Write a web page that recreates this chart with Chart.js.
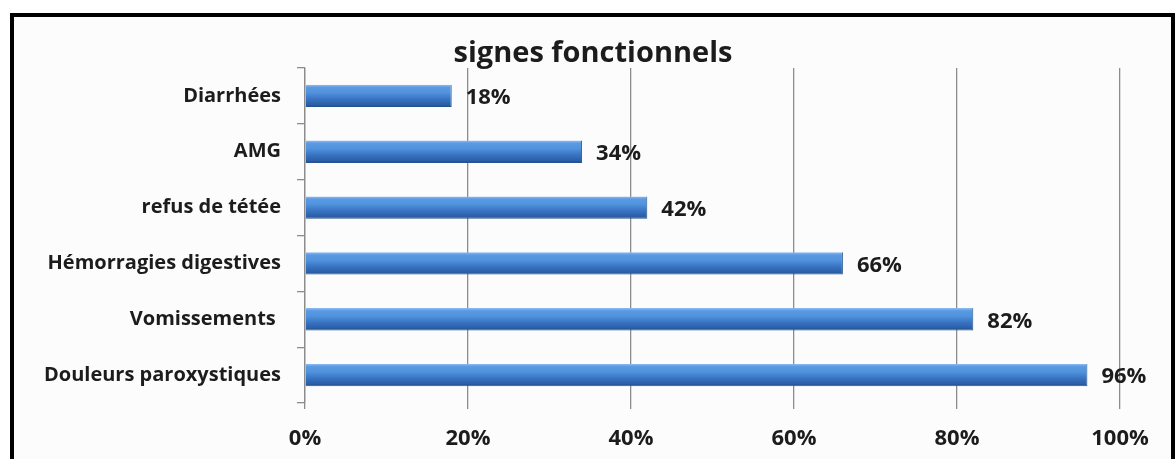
<!DOCTYPE html>
<html>
<head>
<meta charset="utf-8">
<script src="https://cdn.jsdelivr.net/npm/chart.js@4.4.0/dist/chart.umd.min.js"></script>
<style>
  html, body { margin: 0; padding: 0; background: #fff; }
  #wrap { position: relative; width: 1175px; height: 459px; }
  #frame {
    position: absolute; left: 10px; top: 13px; width: 1157px; height: 460px;
    border: 4px solid #000; background: #fcfcfc; box-sizing: content-box;
  }
  canvas { position: absolute; left: 0; top: 0; }
</style>
</head>
<body>
<div id="wrap">
  <div id="frame"></div>
  <canvas id="chart" width="1175" height="459"></canvas>
</div>
<script>
// signes fonctionnels — horizontal bars
const categories = ['Diarrhées', 'AMG', 'refus de tétée', 'Hémorragies digestives', 'Vomissements ', 'Douleurs paroxystiques'];
const values = [18, 34, 42, 66, 82, 96];
const tickValues = [0, 20, 40, 60, 80, 100];

const FONT = '"Open Sans", Lato, sans-serif';
const TEXT = '#1c1c1c';
const BAR_FRACTION = 0.4;

// vertical gradient per bar, computed from the category scale
function barFill(c) {
    const chart = c.chart;
    const y = chart.scales.y;
    if (!y || !chart.chartArea) return '#3f7fcf';
    const mid = y.getPixelForValue(c.dataIndex);
    const h = (y.height / categories.length) * BAR_FRACTION;
    const g = chart.ctx.createLinearGradient(0, mid - h / 2, 0, mid + h / 2);
    g.addColorStop(0, '#8dbdf0');
    g.addColorStop(0.12, '#5b9ae3');
    g.addColorStop(0.35, '#5193dd');
    g.addColorStop(0.65, '#3873c2');
    g.addColorStop(0.9, '#2b5ea5');
    g.addColorStop(1, '#1d4884');
    return g;
}

const valueLabels = {
    id: 'valueLabels',
    afterDatasetsDraw(chart) {
        const ctx = chart.ctx;
        const meta = chart.getDatasetMeta(0);
        ctx.save();
        ctx.font = 'bold 22px ' + FONT;
        ctx.fillStyle = TEXT;
        ctx.textAlign = 'left';
        ctx.textBaseline = 'middle';
        meta.data.forEach((bar, i) => {
            ctx.fillText(values[i] + '%', bar.x + 14, bar.y + 2);
        });
        ctx.restore();
    }
};

new Chart(document.getElementById('chart'), {
    type: 'bar',
    data: {
        labels: categories,
        datasets: [{
            data: values,
            backgroundColor: barFill,
            borderColor: '#24548f',
            borderWidth: { top: 0, bottom: 1, left: 0, right: 1 },
            categoryPercentage: 1,
            barPercentage: BAR_FRACTION
        }]
    },
    options: {
        indexAxis: 'y',
        responsive: false,
        animation: false,
        layout: { padding: { left: 22, right: 11, top: 0, bottom: 0 } },
        plugins: {
            legend: { display: false },
            tooltip: { enabled: false },
            title: {
                display: true,
                text: 'signes fonctionnels',
                color: TEXT,
                font: { family: FONT, size: 29, weight: 'bold', lineHeight: 1 },
                padding: { top: 39, bottom: 0 }
            }
        },
        scales: {
            x: {
                min: 0,
                max: 100,
                afterBuildTicks: s => { s.ticks = tickValues.map(v => ({ value: v })); },
                afterFit: s => { s.height = 56; },
                border: { display: false },
                grid: { color: '#8c8c8c', lineWidth: 1.3, tickLength: 6 },
                ticks: {
                    color: TEXT,
                    padding: 17,
                    font: { family: FONT, size: 22, weight: 'bold' },
                    callback: v => v + '%'
                }
            },
            y: {
                afterFit: s => { s.width = 305 - 22; },
                border: { display: true, color: '#8c8c8c', width: 1.3 },
                grid: { drawOnChartArea: false, color: '#8c8c8c', lineWidth: 1.3, tickLength: 8 },
                ticks: {
                    color: TEXT,
                    padding: 16,
                    font: { family: FONT, size: 20, weight: 'bold' }
                }
            },
            // empty right-hand space so the plot ends at 100% like the original
            spacer: {
                type: 'linear',
                axis: 'y',
                position: 'right',
                display: true,
                afterFit: s => { s.width = 44; },
                border: { display: false },
                grid: { display: false },
                ticks: { display: false }
            }
        }
    },
    plugins: [valueLabels]
});
</script>
</body>
</html>
